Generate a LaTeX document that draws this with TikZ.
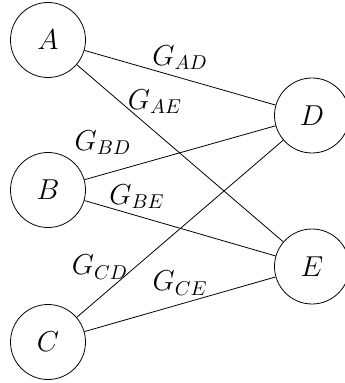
\documentclass[tikz,border=0pt]{standalone}
\usepackage{amsmath}
\usepackage{tikz}

\begin{document}
\begin{tikzpicture}[x=0.5pt,y=-0.5pt]
                \tikzstyle{every node}+=[inner sep=0pt,font=\Large]
                \tikzstyle{vertex}=[draw=black,circle,minimum size=37.5pt]
                \useasboundingbox (0,0) rectangle (344,383);
                \node [vertex] (A) at (48,40) {$A$};
                \node [vertex] (B) at (48,190) {$B$};
                \node [vertex] (C) at (48,342) {$C$};
                \node [vertex] (D) at (312,115.5) {$D$};
                \node [vertex] (E) at (312,266.5) {$E$};
                \draw [black] (A) -- (D);
                \node (gAD) at (180,58) {$G_{AD}$};
                \draw [black] (A) -- (E);
                \node (gAE) at (155,102) {$G_{AE}$};
                \draw [black] (B) -- (D);
                \node (gBD) at (103,143) {$G_{BD}$};
                \draw [black] (B) -- (E);
                \node (gBE) at (137,197) {$G_{BE}$};
                \draw [black] (C) -- (D);
                \node (gCD) at (100,267) {$G_{CD}$};
                \draw [black] (C) -- (E);
                \node (gCE) at (180,283) {$G_{CE}$};
\end{tikzpicture}
\end{document}
